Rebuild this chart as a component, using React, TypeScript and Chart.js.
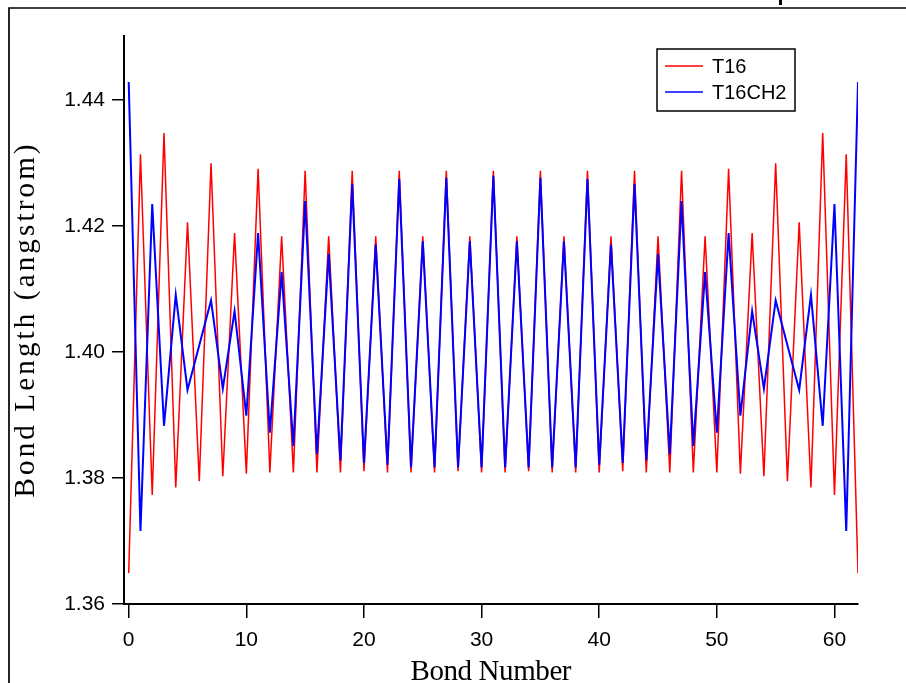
import React, { useEffect, useRef } from "react";
import { Chart, registerables } from "chart.js";

Chart.register(...registerables);

const bondNumbers = [
  0, 1, 2, 3, 4, 5, 6, 7, 8, 9, 10, 11, 12, 13, 14, 15, 16, 17, 18, 19, 20,
  21, 22, 23, 24, 25, 26, 27, 28, 29, 30, 31, 32, 33, 34, 35, 36, 37, 38, 39,
  40, 41, 42, 43, 44, 45, 46, 47, 48, 49, 50, 51, 52, 53, 54, 55, 56, 57, 58,
  59, 60, 61, 62,
];

const t16 = [
  1.3649, 1.4314, 1.3773, 1.4348, 1.3785, 1.4206, 1.3795, 1.43, 1.3803, 1.4189,
  1.3807, 1.4291, 1.3809, 1.4184, 1.3809, 1.4288, 1.3809, 1.4184, 1.3809, 1.4288,
  1.3811, 1.4184, 1.3809, 1.4288, 1.3809, 1.4184, 1.3809, 1.4288, 1.3811, 1.4184,
  1.3809, 1.4288, 1.3809, 1.4184, 1.3811, 1.4288, 1.3809, 1.4184, 1.3809, 1.4288,
  1.3809, 1.4184, 1.3811, 1.4288, 1.3809, 1.4184, 1.3809, 1.4288, 1.3809, 1.4184,
  1.3809, 1.4291, 1.3807, 1.4189, 1.3803, 1.43, 1.3795, 1.4206, 1.3785, 1.4348,
  1.3773, 1.4314, 1.3649,
];

const t16ch2 = [
  1.4429, 1.3716, 1.4235, 1.3883, 1.4091, 1.394, 1.4011, 1.4082, 1.3942, 1.4065,
  1.3899, 1.4189, 1.3872, 1.4127, 1.3851, 1.424, 1.3838, 1.4156, 1.3828, 1.4267,
  1.3824, 1.4171, 1.3821, 1.4275, 1.3817, 1.4176, 1.3817, 1.4277, 1.3817, 1.4176,
  1.3817, 1.428, 1.3817, 1.4176, 1.3817, 1.4277, 1.3817, 1.4176, 1.3817, 1.4275,
  1.3821, 1.4171, 1.3824, 1.4267, 1.3828, 1.4156, 1.3838, 1.424, 1.3851, 1.4127,
  1.3872, 1.4189, 1.3899, 1.4065, 1.3942, 1.4082, 1.4011, 1.394, 1.4091, 1.3883,
  1.4235, 1.3716, 1.4429,
];

const seriesLabels = ["T16", "T16CH2"];
const seriesColors = ["#ff0000", "#0000ff"];
const xTickValues = [0, 10, 20, 30, 40, 50, 60];
const yTickValues = [1.36, 1.38, 1.4, 1.42, 1.44];
const xTitle = "Bond Number";
const yTitle = "Bond Length (angstrom)";

function drawSpaced(ctx: CanvasRenderingContext2D, text: string, cx: number, cy: number, target: number) {
  (ctx as any).letterSpacing = "0px";
  const w = ctx.measureText(text).width;
  const n = text.length;
  const sp = n > 1 ? (target - w) / (n - 1) : 0;
  (ctx as any).letterSpacing = sp + "px";
  ctx.textAlign = "left";
  ctx.fillText(text, cx - target / 2, cy);
  (ctx as any).letterSpacing = "0px";
}

const decorPlugin = {
  id: "decor",
  afterDraw(chart: any) {
    const ctx: CanvasRenderingContext2D = chart.ctx;
    ctx.save();
    // window frame
    ctx.strokeStyle = "#000";
    ctx.lineWidth = 1.7;
    ctx.beginPath();
    ctx.moveTo(9, 683);
    ctx.lineTo(9, 8);
    ctx.lineTo(906, 8);
    ctx.stroke();
    // cut-off title descender
    ctx.fillStyle = "#000";
    ctx.fillRect(779, 0, 3, 5);

    // axis titles
    ctx.fillStyle = "#000";
    ctx.font = "29px 'Liberation Serif'";
    ctx.textBaseline = "alphabetic";
    drawSpaced(ctx, xTitle, 491, 680, 161);
    ctx.save();
    ctx.translate(34, 321);
    ctx.rotate(-Math.PI / 2);
    drawSpaced(ctx, yTitle, 0, 0, 353);
    ctx.restore();

    // legend
    ctx.lineWidth = 1.5;
    ctx.strokeStyle = "#000";
    ctx.strokeRect(657, 49, 138, 62);
    const rowsY = [66, 92];
    ctx.font = "20px 'Liberation Sans'";
    ctx.textBaseline = "middle";
    ctx.textAlign = "left";
    chart.data.datasets.forEach((ds: any, i: number) => {
      const y = rowsY[i];
      ctx.strokeStyle = ds.borderColor;
      ctx.lineWidth = 1.6;
      ctx.beginPath();
      ctx.moveTo(665, y);
      ctx.lineTo(703, y);
      ctx.stroke();
      ctx.fillStyle = "#000";
      ctx.fillText(ds.label, 712, y + 1.5);
    });
    ctx.restore();
  },
};

export default function App() {
  const canvasRef = useRef<HTMLCanvasElement | null>(null);

  useEffect(() => {
    if (!canvasRef.current) return;
    const tickFont = { family: "'Liberation Sans'", size: 21 };
    const chart = new Chart(canvasRef.current, {
      type: "line",
      data: {
        datasets: [
          {
            label: seriesLabels[0],
            data: bondNumbers.map((x, i) => ({ x, y: t16[i] })),
            borderColor: seriesColors[0],
            borderWidth: 1.5,
            pointRadius: 0,
            tension: 0,
            fill: false,
            order: 1,
          },
          {
            label: seriesLabels[1],
            data: bondNumbers.map((x, i) => ({ x, y: t16ch2[i] })),
            borderColor: seriesColors[1],
            borderWidth: 2,
            pointRadius: 0,
            tension: 0,
            fill: false,
            order: 0,
          },
        ],
      },
      options: {
        animation: false,
        responsive: false,
        devicePixelRatio: 1,
        layout: { padding: { top: 36, right: 48, left: 0, bottom: 0 } },
        plugins: {
          legend: { display: false },
          tooltip: { enabled: false },
          title: { display: false },
        },
        scales: {
          x: {
            type: "linear",
            min: -0.4,
            max: 62,
            afterBuildTicks: (s: any) => {
              s.ticks = xTickValues.map((v) => ({ value: v }));
            },
            afterFit: (s: any) => {
              s.height = 79;
            },
            ticks: {
              font: tickFont,
              color: "#000",
              padding: 10,
              maxRotation: 0,
              autoSkip: false,
              callback: (v: any) => String(v),
            },
            grid: {
              drawOnChartArea: false,
              drawTicks: true,
              tickLength: 14,
              color: "#000",
              lineWidth: 1.5,
            },
            border: { display: true, color: "#000", width: 2 },
            title: { display: false },
          },
          y: {
            type: "linear",
            min: 1.36,
            max: 1.4502,
            afterBuildTicks: (s: any) => {
              s.ticks = yTickValues.map((v) => ({ value: v }));
            },
            afterFit: (s: any) => {
              s.width = 124;
            },
            ticks: {
              font: tickFont,
              color: "#000",
              padding: 7,
              autoSkip: false,
              callback: (v: any) => Number(v).toFixed(2),
            },
            grid: {
              drawOnChartArea: false,
              drawTicks: true,
              tickLength: 12,
              color: "#000",
              lineWidth: 1.5,
            },
            border: { display: true, color: "#000", width: 2 },
            title: { display: false },
          },
        },
      },
      plugins: [decorPlugin],
    } as any);
    return () => chart.destroy();
  }, []);

  return (
    <div style={{ position: "absolute", left: 0, top: 0, width: 906, height: 683, background: "#fff" }}>
      <canvas ref={canvasRef} width={906} height={683} style={{ display: "block" }} />
    </div>
  );
}
